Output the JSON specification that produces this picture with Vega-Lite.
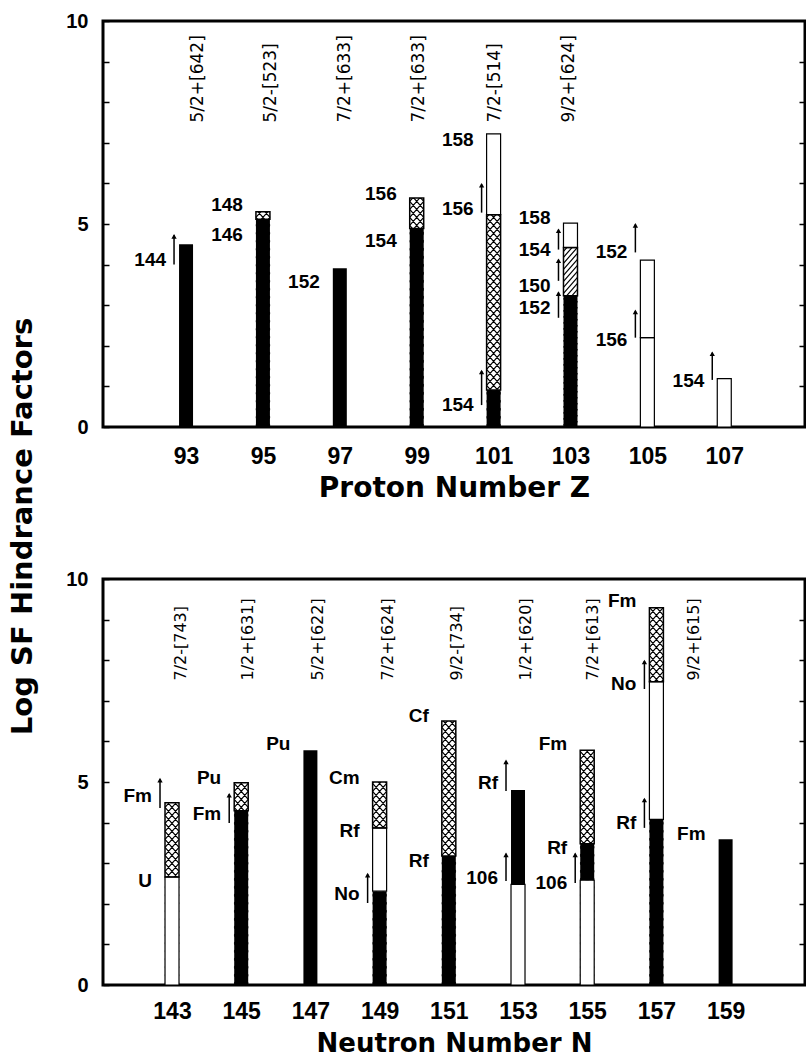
{
  "$schema": "https://vega.github.io/schema/vega-lite/v6.json",
  "background": "white",
  "padding": {"left": 6, "top": 9, "right": 0, "bottom": 0},
  "bounds": "flush",
  "spacing": 152,
  "datasets": {
    "segZ": [
      {"N": 93, "y0": 0, "y1": 4.5, "t": "solid"},
      {"N": 95, "y0": 0, "y1": 5.12, "t": "solid"},
      {"N": 95, "y0": 5.12, "y1": 5.3, "t": "cross"},
      {"N": 97, "y0": 0, "y1": 3.91, "t": "solid"},
      {"N": 99, "y0": 0, "y1": 4.89, "t": "solid"},
      {"N": 99, "y0": 4.89, "y1": 5.64, "t": "cross"},
      {"N": 101, "y0": 0, "y1": 0.91, "t": "solid"},
      {"N": 101, "y0": 0.91, "y1": 5.23, "t": "cross"},
      {"N": 101, "y0": 5.23, "y1": 7.22, "t": "open"},
      {"N": 103, "y0": 0, "y1": 3.23, "t": "solid"},
      {"N": 103, "y0": 3.23, "y1": 4.42, "t": "hatch"},
      {"N": 103, "y0": 4.42, "y1": 5.02, "t": "open"},
      {"N": 105, "y0": 0, "y1": 2.2, "t": "open"},
      {"N": 105, "y0": 2.2, "y1": 4.11, "t": "open"},
      {"N": 107, "y0": 0, "y1": 1.19, "t": "open"}
    ],
    "segN": [
      {"N": 143, "y0": 0, "y1": 2.66, "t": "open"},
      {"N": 143, "y0": 2.66, "y1": 4.49, "t": "cross"},
      {"N": 145, "y0": 0, "y1": 4.29, "t": "solid"},
      {"N": 145, "y0": 4.29, "y1": 4.98, "t": "cross"},
      {"N": 147, "y0": 0, "y1": 5.78, "t": "solid"},
      {"N": 149, "y0": 0, "y1": 2.31, "t": "solid"},
      {"N": 149, "y0": 2.31, "y1": 3.87, "t": "open"},
      {"N": 149, "y0": 3.87, "y1": 5.0, "t": "cross"},
      {"N": 151, "y0": 0, "y1": 3.18, "t": "solid"},
      {"N": 151, "y0": 3.18, "y1": 6.5, "t": "cross"},
      {"N": 153, "y0": 0, "y1": 2.48, "t": "open"},
      {"N": 153, "y0": 2.48, "y1": 4.8, "t": "solid"},
      {"N": 155, "y0": 0, "y1": 2.58, "t": "open"},
      {"N": 155, "y0": 2.58, "y1": 3.48, "t": "solid"},
      {"N": 155, "y0": 3.48, "y1": 5.78, "t": "cross"},
      {"N": 157, "y0": 0, "y1": 4.08, "t": "solid"},
      {"N": 157, "y0": 4.08, "y1": 7.47, "t": "open"},
      {"N": 157, "y0": 7.47, "y1": 9.29, "t": "cross"},
      {"N": 159, "y0": 0, "y1": 3.59, "t": "solid"}
    ],
    "lblZ": [
      {"N": 93, "lv": 4.12, "txt": "144"},
      {"N": 95, "lv": 5.46, "txt": "148"},
      {"N": 95, "lv": 4.74, "txt": "146"},
      {"N": 97, "lv": 3.58, "txt": "152"},
      {"N": 99, "lv": 5.73, "txt": "156"},
      {"N": 99, "lv": 4.59, "txt": "154"},
      {"N": 101, "lv": 7.06, "txt": "158"},
      {"N": 101, "lv": 5.36, "txt": "156"},
      {"N": 101, "lv": 0.54, "txt": "154"},
      {"N": 103, "lv": 5.16, "txt": "158"},
      {"N": 103, "lv": 4.35, "txt": "154"},
      {"N": 103, "lv": 3.48, "txt": "150"},
      {"N": 103, "lv": 2.94, "txt": "152"},
      {"N": 105, "lv": 4.3, "txt": "152"},
      {"N": 105, "lv": 2.15, "txt": "156"},
      {"N": 107, "lv": 1.14, "txt": "154"}
    ],
    "lblN": [
      {"N": 143, "lv": 4.66, "txt": "Fm"},
      {"N": 143, "lv": 2.56, "txt": "U"},
      {"N": 145, "lv": 5.1, "txt": "Pu"},
      {"N": 145, "lv": 4.21, "txt": "Fm"},
      {"N": 147, "lv": 5.94, "txt": "Pu"},
      {"N": 149, "lv": 5.1, "txt": "Cm"},
      {"N": 149, "lv": 3.79, "txt": "Rf"},
      {"N": 149, "lv": 2.24, "txt": "No"},
      {"N": 151, "lv": 6.63, "txt": "Cf"},
      {"N": 151, "lv": 3.05, "txt": "Rf"},
      {"N": 153, "lv": 4.98, "txt": "Rf"},
      {"N": 153, "lv": 2.64, "txt": "106"},
      {"N": 155, "lv": 5.94, "txt": "Fm"},
      {"N": 155, "lv": 3.37, "txt": "Rf"},
      {"N": 155, "lv": 2.51, "txt": "106"},
      {"N": 157, "lv": 9.46, "txt": "Fm"},
      {"N": 157, "lv": 7.41, "txt": "No"},
      {"N": 157, "lv": 3.99, "txt": "Rf"},
      {"N": 159, "lv": 3.72, "txt": "Fm"}
    ],
    "arrZ": [
      {"N": 93, "a0": 4.0, "a1": 4.72},
      {"N": 101, "a0": 5.28, "a1": 5.98},
      {"N": 101, "a0": 0.54, "a1": 1.38},
      {"N": 103, "a0": 4.37, "a1": 4.86},
      {"N": 103, "a0": 3.6, "a1": 4.12},
      {"N": 103, "a0": 2.69, "a1": 3.31},
      {"N": 105, "a0": 4.3, "a1": 4.99},
      {"N": 105, "a0": 2.2, "a1": 2.86},
      {"N": 107, "a0": 1.16, "a1": 1.83}
    ],
    "arrN": [
      {"N": 143, "a0": 4.36, "a1": 5.07},
      {"N": 145, "a0": 3.99, "a1": 4.7},
      {"N": 149, "a0": 2.02, "a1": 2.73},
      {"N": 153, "a0": 4.78, "a1": 5.52},
      {"N": 153, "a0": 2.56, "a1": 3.23},
      {"N": 155, "a0": 2.51, "a1": 3.23},
      {"N": 157, "a0": 7.29, "a1": 7.98},
      {"N": 157, "a0": 3.87, "a1": 4.58}
    ],
    "orbZ": [
      {"N": 93, "lx": 93.31, "txt": "5/2+[642]"},
      {"N": 95, "lx": 95.2, "txt": "5/2-[523]"},
      {"N": 97, "lx": 97.13, "txt": "7/2+[633]"},
      {"N": 99, "lx": 99.05, "txt": "7/2+[633]"},
      {"N": 101, "lx": 101.03, "txt": "7/2-[514]"},
      {"N": 103, "lx": 102.95, "txt": "9/2+[624]"}
    ],
    "orbN": [
      {"N": 143, "lx": 143.26, "txt": "7/2-[743]"},
      {"N": 145, "lx": 145.2, "txt": "1/2+[631]"},
      {"N": 147, "lx": 147.23, "txt": "5/2+[622]"},
      {"N": 149, "lx": 149.23, "txt": "7/2+[624]"},
      {"N": 151, "lx": 151.23, "txt": "9/2-[734]"},
      {"N": 153, "lx": 153.23, "txt": "1/2+[620]"},
      {"N": 155, "lx": 155.17, "txt": "7/2+[613]"},
      {"N": 157, "lx": 158.08, "txt": "9/2+[615]"}
    ]
  },
  "config": {
    "view": {"stroke": "black", "strokeWidth": 3},
    "axis": {"grid": false, "domain": false, "labelColor": "black", "tickColor": "black", "titleColor": "black"},
    "axisX": {"ticks": false, "labelFont": "Liberation Sans", "labelFontWeight": "bold", "labelFontSize": 23, "labelPadding": 18, "titleFont": "DejaVu Sans", "titleFontWeight": "bold", "titleFontSize": 28, "titlePadding": 6},
    "axisY": {"tickSize": -6, "tickWidth": 1.5, "labelFont": "Liberation Sans", "labelFontWeight": "bold", "labelFontSize": 20, "labelPadding": 21}
  },
  "vconcat": [
    {
      "width": 702,
      "height": 406,
      "encoding": {
        "x": {"field": "N", "type": "quantitative", "scale": {"domain": [90.97, 108.97], "nice": false, "zero": false}, "axis": {"values": [93, 95, 97, 99, 101, 103, 105, 107], "title": "Proton Number Z"}}
      },
      "resolve": {"axis": {"y": "independent"}},
      "layer": [
        {
          "data": {"name": "segZ"},
          "transform": [{"filter": "datum.t === 'cross'"}],
          "mark": {"type": "point", "shape": "M-7 -219l14 16m-14 -8l14 16m-14 -8l14 16m-14 -8l14 16m-14 -8l14 16m-14 -8l14 16m-14 -8l14 16m-14 -8l14 16m-14 -8l14 16m-14 -8l14 16m-14 -8l14 16m-14 -8l14 16m-14 -8l14 16m-14 -8l14 16m-14 -8l14 16m-14 -8l14 16m-14 -8l14 16m-14 -8l14 16m-14 -8l14 16m-14 -8l14 16m-14 -8l14 16m-14 -8l14 16m-14 -8l14 16m-14 -8l14 16m-14 -8l14 16m-14 -8l14 16m-14 -8l14 16m-14 -8l14 16m-14 -8l14 16m-14 -8l14 16m-14 -8l14 16m-14 -8l14 16m-14 -8l14 16m-14 -8l14 16m-14 -8l14 16m-14 -8l14 16m-14 -8l14 16m-14 -8l14 16m-14 -8l14 16m-14 -8l14 16m-14 -8l14 16m-14 -8l14 16m-14 -8l14 16m-14 -8l14 16m-14 -8l14 16m-14 -8l14 16m-14 -8l14 16m-14 -8l14 16m-14 -8l14 16m-14 -8l14 16m-14 -8l14 16m-14 -8l14 16m-14 -8l14 16m-14 -8l14 16m-14 -8l14 16m-14 -8l14 16m-14 -8l14 16m-14 -8l14 16m-14 -8l14 16m-14 -8l14 16m-14 -8M-7 -203l14 -16m-14 24l14 -16m-14 24l14 -16m-14 24l14 -16m-14 24l14 -16m-14 24l14 -16m-14 24l14 -16m-14 24l14 -16m-14 24l14 -16m-14 24l14 -16m-14 24l14 -16m-14 24l14 -16m-14 24l14 -16m-14 24l14 -16m-14 24l14 -16m-14 24l14 -16m-14 24l14 -16m-14 24l14 -16m-14 24l14 -16m-14 24l14 -16m-14 24l14 -16m-14 24l14 -16m-14 24l14 -16m-14 24l14 -16m-14 24l14 -16m-14 24l14 -16m-14 24l14 -16m-14 24l14 -16m-14 24l14 -16m-14 24l14 -16m-14 24l14 -16m-14 24l14 -16m-14 24l14 -16m-14 24l14 -16m-14 24l14 -16m-14 24l14 -16m-14 24l14 -16m-14 24l14 -16m-14 24l14 -16m-14 24l14 -16m-14 24l14 -16m-14 24l14 -16m-14 24l14 -16m-14 24l14 -16m-14 24l14 -16m-14 24l14 -16m-14 24l14 -16m-14 24l14 -16m-14 24l14 -16m-14 24l14 -16m-14 24l14 -16m-14 24l14 -16m-14 24l14 -16m-14 24l14 -16m-14 24l14 -16m-14 24l14 -16m-14 24l14 -16m-14 24l14 -16m-14 24l14 -16m-14 24l14 -16m-14 24l14 -16m-14 24l14 -16m-14 24l14 -16m-14 24", "size": 4, "filled": false, "color": "black", "strokeWidth": 1.2, "opacity": 1, "clip": true},
          "encoding": {"y": {"datum": 4.5, "type": "quantitative", "scale": {"domain": [0, 10], "nice": false}, "axis": null}}
        },
        {
          "data": {"name": "segZ"},
          "transform": [{"filter": "datum.t === 'hatch'"}],
          "mark": {"type": "point", "shape": "M-7 -203l14 -16m-14 22l14 -16m-14 22l14 -16m-14 22l14 -16m-14 22l14 -16m-14 22l14 -16m-14 22l14 -16m-14 22l14 -16m-14 22l14 -16m-14 22l14 -16m-14 22l14 -16m-14 22l14 -16m-14 22l14 -16m-14 22l14 -16m-14 22l14 -16m-14 22l14 -16m-14 22l14 -16m-14 22l14 -16m-14 22l14 -16m-14 22l14 -16m-14 22l14 -16m-14 22l14 -16m-14 22l14 -16m-14 22l14 -16m-14 22l14 -16m-14 22l14 -16m-14 22l14 -16m-14 22l14 -16m-14 22l14 -16m-14 22l14 -16m-14 22l14 -16m-14 22l14 -16m-14 22l14 -16m-14 22l14 -16m-14 22l14 -16m-14 22l14 -16m-14 22l14 -16m-14 22l14 -16m-14 22l14 -16m-14 22l14 -16m-14 22l14 -16m-14 22l14 -16m-14 22l14 -16m-14 22l14 -16m-14 22l14 -16m-14 22l14 -16m-14 22l14 -16m-14 22l14 -16m-14 22l14 -16m-14 22l14 -16m-14 22l14 -16m-14 22l14 -16m-14 22l14 -16m-14 22l14 -16m-14 22l14 -16m-14 22l14 -16m-14 22l14 -16m-14 22l14 -16m-14 22l14 -16m-14 22l14 -16m-14 22l14 -16m-14 22l14 -16m-14 22l14 -16m-14 22l14 -16m-14 22l14 -16m-14 22l14 -16m-14 22l14 -16m-14 22l14 -16m-14 22l14 -16m-14 22l14 -16m-14 22l14 -16m-14 22l14 -16m-14 22l14 -16m-14 22l14 -16m-14 22l14 -16m-14 22l14 -16m-14 22l14 -16m-14 22l14 -16m-14 22", "size": 4, "filled": false, "color": "black", "strokeWidth": 1.2, "opacity": 1, "clip": true},
          "encoding": {"y": {"datum": 4.5, "type": "quantitative", "scale": {"domain": [0, 10], "nice": false}, "axis": null}}
        },
        {
          "data": {"name": "segZ"},
          "transform": [{"filter": "datum.t === 'cross' || datum.t === 'hatch'"}],
          "mark": {"type": "bar", "width": 17, "color": "white"},
          "encoding": {
            "y": {"field": "y1", "type": "quantitative", "scale": {"domain": [0, 10], "nice": false}, "axis": null},
            "y2": {"datum": 9.95}
          }
        },
        {
          "data": {"name": "segZ"},
          "transform": [{"filter": "datum.t === 'solid'"}],
          "mark": {"type": "bar", "width": 14, "color": "black"},
          "encoding": {
            "y": {"field": "y0", "type": "quantitative", "scale": {"domain": [0, 10], "nice": false},
              "axis": {"values": [0, 1, 2, 3, 4, 5, 6, 7, 8, 9, 10], "labelExpr": "datum.value % 5 === 0 ? datum.label : ''", "title": "Log SF Hindrance Factors", "titleX": -81, "titleY": 505, "titleAngle": 270, "titleAlign": "center", "titleBaseline": "middle", "titleFont": "DejaVu Sans", "titleFontWeight": "bold", "titleFontSize": 29}},
            "y2": {"field": "y1"}
          }
        },
        {
          "data": {"name": "segZ"},
          "transform": [{"filter": "datum.t === 'open'"}],
          "mark": {"type": "bar", "width": 14, "fill": "white", "stroke": "black", "strokeWidth": 1.2},
          "encoding": {
            "y": {"field": "y0", "type": "quantitative", "scale": {"domain": [0, 10], "nice": false}, "axis": null},
            "y2": {"field": "y1"}
          }
        },
        {
          "data": {"name": "segZ"},
          "transform": [{"filter": "datum.t === 'cross' || datum.t === 'hatch'"}],
          "mark": {"type": "bar", "width": 14, "fill": "transparent", "stroke": "black", "strokeWidth": 1.5},
          "encoding": {
            "y": {"field": "y0", "type": "quantitative", "scale": {"domain": [0, 10], "nice": false}, "axis": null},
            "y2": {"field": "y1"}
          }
        },
        {
          "data": {"name": "arrZ"},
          "mark": {"type": "rule", "xOffset": -12, "color": "black", "strokeWidth": 1.5},
          "encoding": {
            "y": {"field": "a0", "type": "quantitative", "scale": {"domain": [0, 10], "nice": false}, "axis": null},
            "y2": {"field": "a1"}
          }
        },
        {
          "data": {"name": "arrZ"},
          "mark": {"type": "point", "shape": "triangle-up", "size": 28, "filled": true, "color": "black", "opacity": 1, "xOffset": -12, "yOffset": 1},
          "encoding": {
            "y": {"field": "a1", "type": "quantitative", "scale": {"domain": [0, 10], "nice": false}, "axis": null}
          }
        },
        {
          "data": {"name": "lblZ"},
          "mark": {"type": "text", "align": "right", "baseline": "middle", "dx": -20, "font": "Liberation Sans", "fontWeight": "bold", "fontSize": 19, "color": "black"},
          "encoding": {
            "y": {"field": "lv", "type": "quantitative", "scale": {"domain": [0, 10], "nice": false},
              "axis": {"orient": "right", "values": [1, 2, 3, 4, 5, 6, 7, 8, 9], "labels": false, "title": null, "tickSize": -6}},
            "text": {"field": "txt"}
          }
        },
        {
          "data": {"name": "orbZ"},
          "mark": {"type": "text", "angle": 270, "align": "left", "baseline": "middle", "font": "DejaVu Sans", "fontSize": 17, "color": "black"},
          "encoding": {
            "x": {"field": "lx", "type": "quantitative", "scale": {"domain": [90.97, 108.97], "nice": false, "zero": false}, "axis": {"values": [93, 95, 97, 99, 101, 103, 105, 107], "title": "Proton Number Z"}},
            "y": {"datum": 7.5, "type": "quantitative", "scale": {"domain": [0, 10], "nice": false}, "axis": null},
            "text": {"field": "txt"}
          }
        }
      ]
    },
    {
      "width": 702,
      "height": 406,
      "encoding": {
        "x": {"field": "N", "type": "quantitative", "scale": {"domain": [141.15, 161.15], "nice": false, "zero": false}, "axis": {"values": [143, 145, 147, 149, 151, 153, 155, 157, 159], "title": "Neutron Number N", "labelPadding": 15, "titleFontSize": 26, "titlePadding": 7}}
      },
      "resolve": {"axis": {"y": "independent"}},
      "layer": [
        {
          "data": {"name": "segN"},
          "transform": [{"filter": "datum.t === 'cross'"}],
          "mark": {"type": "point", "shape": "M-7 -219l14 16m-14 -8l14 16m-14 -8l14 16m-14 -8l14 16m-14 -8l14 16m-14 -8l14 16m-14 -8l14 16m-14 -8l14 16m-14 -8l14 16m-14 -8l14 16m-14 -8l14 16m-14 -8l14 16m-14 -8l14 16m-14 -8l14 16m-14 -8l14 16m-14 -8l14 16m-14 -8l14 16m-14 -8l14 16m-14 -8l14 16m-14 -8l14 16m-14 -8l14 16m-14 -8l14 16m-14 -8l14 16m-14 -8l14 16m-14 -8l14 16m-14 -8l14 16m-14 -8l14 16m-14 -8l14 16m-14 -8l14 16m-14 -8l14 16m-14 -8l14 16m-14 -8l14 16m-14 -8l14 16m-14 -8l14 16m-14 -8l14 16m-14 -8l14 16m-14 -8l14 16m-14 -8l14 16m-14 -8l14 16m-14 -8l14 16m-14 -8l14 16m-14 -8l14 16m-14 -8l14 16m-14 -8l14 16m-14 -8l14 16m-14 -8l14 16m-14 -8l14 16m-14 -8l14 16m-14 -8l14 16m-14 -8l14 16m-14 -8l14 16m-14 -8l14 16m-14 -8l14 16m-14 -8l14 16m-14 -8l14 16m-14 -8l14 16m-14 -8l14 16m-14 -8l14 16m-14 -8l14 16m-14 -8l14 16m-14 -8l14 16m-14 -8l14 16m-14 -8M-7 -203l14 -16m-14 24l14 -16m-14 24l14 -16m-14 24l14 -16m-14 24l14 -16m-14 24l14 -16m-14 24l14 -16m-14 24l14 -16m-14 24l14 -16m-14 24l14 -16m-14 24l14 -16m-14 24l14 -16m-14 24l14 -16m-14 24l14 -16m-14 24l14 -16m-14 24l14 -16m-14 24l14 -16m-14 24l14 -16m-14 24l14 -16m-14 24l14 -16m-14 24l14 -16m-14 24l14 -16m-14 24l14 -16m-14 24l14 -16m-14 24l14 -16m-14 24l14 -16m-14 24l14 -16m-14 24l14 -16m-14 24l14 -16m-14 24l14 -16m-14 24l14 -16m-14 24l14 -16m-14 24l14 -16m-14 24l14 -16m-14 24l14 -16m-14 24l14 -16m-14 24l14 -16m-14 24l14 -16m-14 24l14 -16m-14 24l14 -16m-14 24l14 -16m-14 24l14 -16m-14 24l14 -16m-14 24l14 -16m-14 24l14 -16m-14 24l14 -16m-14 24l14 -16m-14 24l14 -16m-14 24l14 -16m-14 24l14 -16m-14 24l14 -16m-14 24l14 -16m-14 24l14 -16m-14 24l14 -16m-14 24l14 -16m-14 24l14 -16m-14 24l14 -16m-14 24l14 -16m-14 24l14 -16m-14 24l14 -16m-14 24l14 -16m-14 24", "size": 4, "filled": false, "color": "black", "strokeWidth": 1.2, "opacity": 1, "clip": true},
          "encoding": {"y": {"datum": 4.5, "type": "quantitative", "scale": {"domain": [0, 10], "nice": false}, "axis": null}}
        },
        {
          "data": {"name": "segN"},
          "transform": [{"filter": "datum.t === 'cross'"}],
          "mark": {"type": "bar", "width": 17, "color": "white"},
          "encoding": {
            "y": {"field": "y1", "type": "quantitative", "scale": {"domain": [0, 10], "nice": false}, "axis": null},
            "y2": {"datum": 9.95}
          }
        },
        {
          "data": {"name": "segN"},
          "transform": [{"filter": "datum.t === 'solid'"}],
          "mark": {"type": "bar", "width": 14, "color": "black"},
          "encoding": {
            "y": {"field": "y0", "type": "quantitative", "scale": {"domain": [0, 10], "nice": false},
              "axis": {"values": [0, 1, 2, 3, 4, 5, 6, 7, 8, 9, 10], "labelExpr": "datum.value % 5 === 0 ? datum.label : ''", "title": null}},
            "y2": {"field": "y1"}
          }
        },
        {
          "data": {"name": "segN"},
          "transform": [{"filter": "datum.t === 'open'"}],
          "mark": {"type": "bar", "width": 14, "fill": "white", "stroke": "black", "strokeWidth": 1.2},
          "encoding": {
            "y": {"field": "y0", "type": "quantitative", "scale": {"domain": [0, 10], "nice": false}, "axis": null},
            "y2": {"field": "y1"}
          }
        },
        {
          "data": {"name": "segN"},
          "transform": [{"filter": "datum.t === 'cross'"}],
          "mark": {"type": "bar", "width": 14, "fill": "transparent", "stroke": "black", "strokeWidth": 1.5},
          "encoding": {
            "y": {"field": "y0", "type": "quantitative", "scale": {"domain": [0, 10], "nice": false}, "axis": null},
            "y2": {"field": "y1"}
          }
        },
        {
          "data": {"name": "arrN"},
          "mark": {"type": "rule", "xOffset": -12, "color": "black", "strokeWidth": 1.5},
          "encoding": {
            "y": {"field": "a0", "type": "quantitative", "scale": {"domain": [0, 10], "nice": false}, "axis": null},
            "y2": {"field": "a1"}
          }
        },
        {
          "data": {"name": "arrN"},
          "mark": {"type": "point", "shape": "triangle-up", "size": 28, "filled": true, "color": "black", "opacity": 1, "xOffset": -12, "yOffset": 1},
          "encoding": {
            "y": {"field": "a1", "type": "quantitative", "scale": {"domain": [0, 10], "nice": false}, "axis": null}
          }
        },
        {
          "data": {"name": "lblN"},
          "mark": {"type": "text", "align": "right", "baseline": "middle", "dx": -20, "font": "Liberation Sans", "fontWeight": "bold", "fontSize": 19, "color": "black"},
          "encoding": {
            "y": {"field": "lv", "type": "quantitative", "scale": {"domain": [0, 10], "nice": false},
              "axis": {"orient": "right", "values": [1, 2, 3, 4, 5, 6, 7, 8, 9], "labels": false, "title": null, "tickSize": -6}},
            "text": {"field": "txt"}
          }
        },
        {
          "data": {"name": "orbN"},
          "mark": {"type": "text", "angle": 270, "align": "left", "baseline": "middle", "font": "DejaVu Sans", "fontSize": 16, "color": "black"},
          "encoding": {
            "x": {"field": "lx", "type": "quantitative", "scale": {"domain": [141.15, 161.15], "nice": false, "zero": false}, "axis": {"values": [143, 145, 147, 149, 151, 153, 155, 157, 159], "title": "Neutron Number N", "labelPadding": 15, "titleFontSize": 26, "titlePadding": 7}},
            "y": {"datum": 7.5, "type": "quantitative", "scale": {"domain": [0, 10], "nice": false}, "axis": null},
            "text": {"field": "txt"}
          }
        }
      ]
    }
  ]
}
